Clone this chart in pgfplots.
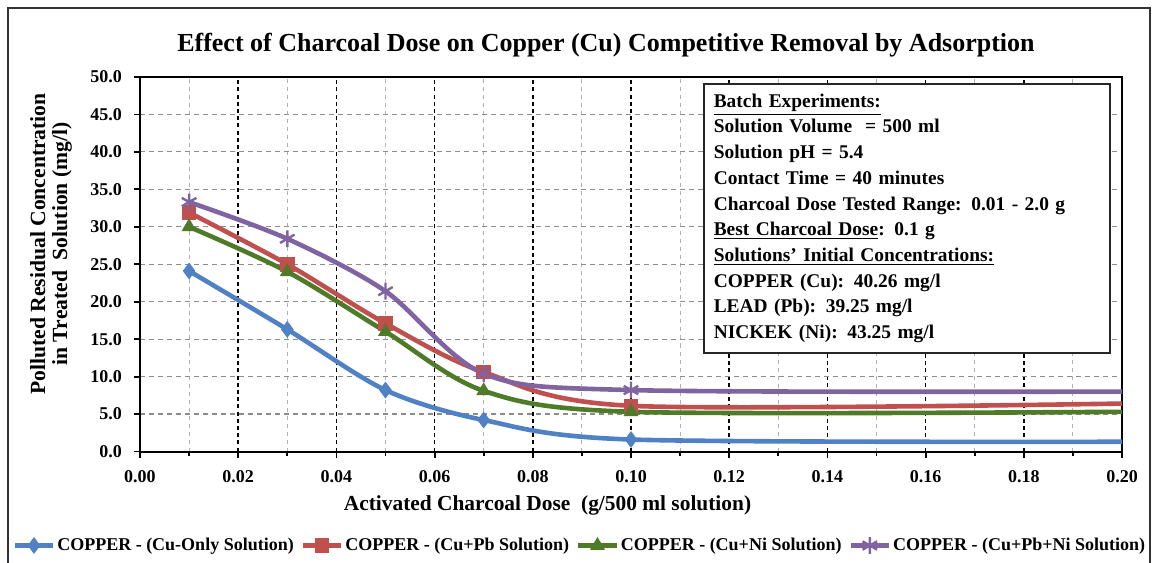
\documentclass[border=0pt]{standalone}
\usepackage{pgfplots}
\pgfplotsset{compat=1.18}
\usepackage{fontspec}
\setmainfont{Liberation Serif}

\definecolor{cuonly}{RGB}{79,129,196}
\definecolor{cupb}{RGB}{192,80,77}
\definecolor{cuni}{RGB}{79,122,40}
\definecolor{cupbni}{RGB}{128,100,162}

\begin{document}
\begin{tikzpicture}
\useasboundingbox (0,0) rectangle (578pt,281pt);
% outer chart frame
\draw[line width=1pt, black!80] (4pt,-2pt) -- (4pt,277pt) -- (575pt,277pt) -- (575pt,-2pt);

\begin{axis}[
  at={(70pt,55.25pt)}, anchor=south west,
  scale only axis, width=491pt, height=187.25pt,
  xmin=0, xmax=0.2, ymin=0, ymax=50,
  xtick={0,0.02,0.04,0.06,0.08,0.1,0.12,0.14,0.16,0.18,0.2},
  minor xtick={0.01,0.03,0.05,0.07,0.09,0.11,0.13,0.15,0.17,0.19},
  ytick={0,5,10,15,20,25,30,35,40,45,50},
  xtick pos=bottom, ytick pos=left,
  tick align=outside,
  major tick length=3pt, minor tick length=2pt,
  every tick/.style={black, line width=0.9pt},
  axis line style={line width=1pt},
  /pgf/number format/assume math mode=true,
  xticklabel style={/pgf/number format/.cd, fixed, fixed zerofill, precision=2,
    /tikz/.cd, font=\bfseries\fontsize{9}{10}\selectfont, yshift=-3pt},
  yticklabel style={/pgf/number format/.cd, fixed, fixed zerofill, precision=1,
    /tikz/.cd, font=\bfseries\fontsize{9}{10}\selectfont, xshift=-2.5pt},
  scaled x ticks=false,
  xmajorgrids, xminorgrids, ymajorgrids,
  major x grid style={black, line width=0.8pt, dash pattern=on 2pt off 1.6pt},
  minor x grid style={black!30, line width=0.5pt, dash pattern=on 2pt off 2pt},
  major y grid style={black!45, line width=0.6pt, dash pattern=on 2.5pt off 2pt},
  legend columns=4,
  legend style={at={(0.448,-0.251)}, anchor=center, draw=none, fill=none,
    font=\bfseries\fontsize{9}{11}\selectfont,
    nodes={inner xsep=1pt},
    /tikz/every even column/.append style={column sep=2.5pt},
    inner sep=0pt},
  legend image code/.code={
    \draw[#1, mark indices={2}] plot coordinates {(0pt,0pt) (9.5pt,0pt) (19pt,0pt)};},
  every axis plot/.append style={line width=2.3pt, smooth, mark indices={1,2,3,4,5}},
]
\addplot[cuonly, mark=diamond*, mark size=3.8pt, mark options={solid, line width=0.5pt}]
  coordinates {(0.01,24.1) (0.03,16.3) (0.05,8.2) (0.07,4.2) (0.10,1.6) (0.20,1.3)};
\addlegendentry{COPPER - (Cu-Only Solution)}
\addplot[cupb, mark=square*, mark size=3.4pt, mark options={solid, line width=0.5pt}]
  coordinates {(0.01,31.9) (0.03,25.0) (0.05,17.1) (0.07,10.6) (0.10,6.1) (0.20,6.4)};
\addlegendentry{COPPER - (Cu+Pb Solution)}
\addplot[cuni, mark=triangle*, mark size=3.8pt, mark options={solid, line width=0.5pt}]
  coordinates {(0.01,30.0) (0.03,24.0) (0.05,16.0) (0.07,8.1) (0.10,5.3) (0.20,5.3)};
\addlegendentry{COPPER - (Cu+Ni Solution)}
\addplot[cupbni, mark=asterisk, mark size=4.2pt, mark options={solid, line width=1.2pt}]
  coordinates {(0.01,33.3) (0.03,28.4) (0.05,21.4) (0.07,10.4) (0.10,8.2) (0.20,8.0)};
\addlegendentry{COPPER - (Cu+Pb+Ni Solution)}
\end{axis}

% chart title
\node[font=\bfseries\fontsize{13}{15}\selectfont] at (303pt,258.5pt)
  {Effect of Charcoal Dose on Copper (Cu) Competitive Removal by Adsorption};
% axis titles
\node[font=\bfseries\fontsize{10.7}{12}\selectfont] at (273.75pt,28.5pt)
  {Activated Charcoal Dose~ (g/500 ml solution)};
\node[font=\bfseries\fontsize{10.8}{11}\selectfont, rotate=90, align=center] at (25.5pt,159pt)
  {Polluted Residual Concentration\\in Treated~ Solution (mg/l)};

% experiment details
\node[draw=black!85, line width=0.8pt, fill=white, anchor=north west,
      text width=193pt, inner xsep=5pt, inner ysep=5pt, align=left,
      font=\bfseries\fontsize{9.7}{12.85}\selectfont] at (351.5pt,239.5pt)
  {\underline{Batch Experiments:}\\
   Solution Volume~ = 500 ml\\
   Solution pH = 5.4\\
   Contact Time = 40 minutes\\
   Charcoal Dose Tested Range: 0.01 - 2.0 g\\
   \underline{Best Charcoal Dose}: 0.1 g\\
   \underline{Solutions' Initial Concentrations:}\\
   COPPER (Cu): 40.26 mg/l\\
   LEAD (Pb): 39.25 mg/l\\
   NICKEK (Ni): 43.25 mg/l};
\end{tikzpicture}
\end{document}
